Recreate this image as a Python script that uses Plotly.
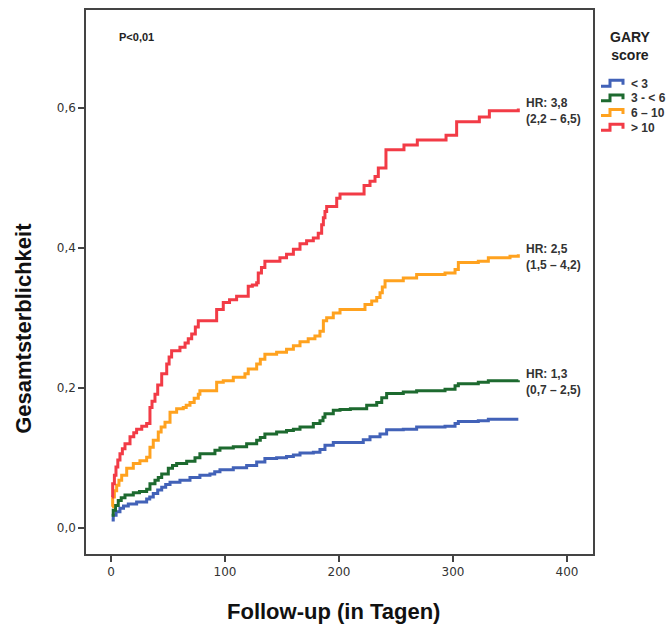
import plotly.graph_objects as go

# ---------------- data ----------------
series_names = ["< 3", "3 - < 6", "6 \u2013 10", "> 10"]
series_colors = ["#4262b8", "#1d6a2f", "#ffa21f", "#f23b46"]

days_lt3 = [0.6, 2, 4.5, 7.9, 11, 15.2, 22.5, 31.3, 34, 37.1, 41, 44.5, 48, 51.8, 60.5, 69.3, 78,
            86.8, 91, 95.6, 107.3, 119, 127.8, 135, 145.3, 154, 160, 165.8, 177.5, 183.3, 187.7,
            195, 221.3, 227.2, 236, 241.8, 256.4, 268.1, 293, 301.8, 304.7, 322.2, 331, 357.3]
vals_lt3 = [0.011, 0.018, 0.023, 0.028, 0.031, 0.034, 0.037, 0.041, 0.044, 0.049, 0.054, 0.058,
            0.062, 0.065, 0.068, 0.072, 0.075, 0.077, 0.080, 0.083, 0.086, 0.089, 0.094, 0.099,
            0.100, 0.102, 0.104, 0.107, 0.108, 0.112, 0.118, 0.122, 0.126, 0.130, 0.134, 0.140,
            0.141, 0.144, 0.145, 0.149, 0.152, 0.153, 0.155, 0.155]

days_3to6 = [0.6, 2, 4, 6.4, 9, 12.3, 19.6, 25, 31.3, 34.2, 38.6, 41.5, 44.5, 50.3, 54, 57.6, 66.4,
             73.7, 78, 91.2, 95.6, 107.3, 119, 127.8, 131, 135, 145.3, 154, 160, 165.8, 177.5,
             183.3, 186, 187.7, 195, 200.9, 210, 224.3, 233.1, 237.5, 241.8, 256.4, 268.1, 293,
             301.8, 304.7, 322.2, 331, 357.3]
vals_3to6 = [0.018, 0.025, 0.032, 0.039, 0.043, 0.047, 0.050, 0.052, 0.055, 0.063, 0.068, 0.072,
             0.077, 0.085, 0.089, 0.092, 0.095, 0.100, 0.106, 0.111, 0.114, 0.116, 0.120, 0.125,
             0.129, 0.134, 0.137, 0.139, 0.141, 0.144, 0.149, 0.153, 0.158, 0.163, 0.168, 0.169,
             0.170, 0.175, 0.179, 0.186, 0.192, 0.194, 0.196, 0.198, 0.203, 0.206, 0.208, 0.210,
             0.211]

days_6to10 = [1, 1.5, 3, 5, 7, 9.4, 13.8, 19.6, 25.4, 31.3, 34.2, 37.1, 41.5, 44, 47.4, 51.8, 57.6,
              63.4, 66, 69.3, 73, 76.6, 78, 92.7, 98.5, 107.3, 117.5, 120.4, 127.8, 131, 135,
              145.3, 154, 160, 165.8, 173, 178.9, 183.3, 186.3, 189.2, 195, 200.9, 222.8, 228.7,
              233.1, 236, 238, 240.4, 256.4, 268.1, 293, 301.8, 304.7, 322.2, 331, 350, 357.3]
vals_6to10 = [0.030, 0.044, 0.053, 0.061, 0.068, 0.075, 0.085, 0.092, 0.096, 0.101, 0.115, 0.125,
              0.137, 0.144, 0.151, 0.165, 0.170, 0.172, 0.175, 0.179, 0.185, 0.191, 0.196, 0.208,
              0.210, 0.215, 0.220, 0.227, 0.234, 0.241, 0.248, 0.251, 0.255, 0.260, 0.266, 0.270,
              0.274, 0.281, 0.296, 0.300, 0.307, 0.312, 0.319, 0.324, 0.329, 0.336, 0.344, 0.353,
              0.357, 0.362, 0.364, 0.369, 0.379, 0.381, 0.386, 0.388, 0.391]

days_gt10 = [1, 1.5, 3, 4.4, 6, 7.9, 10, 12.3, 16.7, 20, 22.5, 27, 31.3, 34.2, 36, 38.6, 41, 44.5,
             48.9, 51, 53.2, 60.5, 65, 67.8, 70.8, 74, 76.6, 92.7, 98.5, 104, 110.2, 120.4, 124,
             127.8, 129.2, 132, 135, 148.2, 154, 160, 165.8, 171.6, 177.5, 181.8, 184.8, 186.3,
             187.7, 189.2, 198, 200.9, 222, 227.2, 231.6, 234.5, 241.2, 257, 268.7, 293.9, 303.2,
             323.1, 331.9, 357.3]
vals_gt10 = [0.044, 0.063, 0.075, 0.087, 0.097, 0.106, 0.113, 0.120, 0.130, 0.136, 0.141, 0.145,
             0.149, 0.172, 0.181, 0.191, 0.204, 0.220, 0.234, 0.244, 0.253, 0.258, 0.264, 0.270,
             0.277, 0.287, 0.296, 0.312, 0.322, 0.326, 0.331, 0.345, 0.347, 0.350, 0.364, 0.372,
             0.381, 0.386, 0.391, 0.398, 0.406, 0.410, 0.414, 0.421, 0.433, 0.443, 0.452, 0.459,
             0.471, 0.477, 0.489, 0.495, 0.502, 0.514, 0.540, 0.547, 0.554, 0.561, 0.580, 0.587,
             0.596, 0.599]

series_days = [days_lt3, days_3to6, days_6to10, days_gt10]
series_vals = [vals_lt3, vals_3to6, vals_6to10, vals_gt10]

hr_labels = ["", "HR: 1,3<br>(0,7 \u2013 2,5)", "HR: 2,5<br>(1,5 \u2013 4,2)", "HR: 3,8<br>(2,2 \u2013 6,5)"]
hr_y = [None, 0.209, 0.387, 0.596]
hr_x = 362

x_ticks = [0, 100, 200, 300, 400]
y_ticks = [0.0, 0.2, 0.4, 0.6]
y_ticktext = ["0,0", "0,2", "0,4", "0,6"]

# ---------------- figure ----------------
W, H = 668, 625
ML, MR, MT, MB = 86, 75, 8, 71
PW, PH = W - ML - MR, H - MT - MB


def px(x):
    return (x - ML) / PW


def py(y):
    return (H - MB - y) / PH


fig = go.Figure()
for name, color, d, v in zip(series_names, series_colors, series_days, series_vals):
    fig.add_trace(go.Scatter(x=d, y=v, mode="lines", line=dict(color=color, width=3, shape="hv"),
                             name=name, showlegend=False, hoverinfo="x+y+name"))

bold = "Liberation Sans, Arial, sans-serif"
annotations = []
for lab, yy in zip(hr_labels, hr_y):
    if lab:
        annotations.append(dict(x=hr_x, y=yy, xref="x", yref="y", text="<b>" + lab + "</b>",
                                showarrow=False, xanchor="left", yanchor="middle", align="left",
                                font=dict(family=bold, size=12, color="#333333")))
annotations.append(dict(x=px(117), y=py(35), xref="paper", yref="paper", text="<b>P<0,01</b>",
                        showarrow=False, xanchor="left", yanchor="middle",
                        font=dict(family=bold, size=11, color="#222222")))
annotations.append(dict(x=px(333), y=py(612), xref="paper", yref="paper",
                        text="<b>Follow-up (in Tagen)</b>", showarrow=False,
                        xanchor="center", yanchor="middle",
                        font=dict(family=bold, size=22, color="#111111")))
annotations.append(dict(x=px(24), y=py(328), xref="paper", yref="paper",
                        text="<b>Gesamtsterblichkeit</b>", showarrow=False, textangle=-90,
                        xanchor="center", yanchor="middle",
                        font=dict(family=bold, size=22, color="#111111")))
# legend title
annotations.append(dict(x=px(630), y=py(44), xref="paper", yref="paper",
                        text="<b>GARY<br>score</b>", showarrow=False, xanchor="center",
                        yanchor="middle", align="center",
                        font=dict(family=bold, size=14, color="#222222")))

shapes = []
for i, (name, color) in enumerate(zip(series_names, series_colors)):
    yc = 82 + 14.7 * i
    path = "M {},{} L {},{} L {},{} L {},{} L {},{}".format(
        px(601), py(yc + 2.5), px(610), py(yc + 2.5), px(610), py(yc - 3.5),
        px(623), py(yc - 3.5), px(623), py(yc + 1))
    shapes.append(dict(type="path", path=path, xref="paper", yref="paper",
                       line=dict(color=color, width=3)))
    annotations.append(dict(x=px(629), y=py(yc), xref="paper", yref="paper",
                            text="<b>" + name + "</b>", showarrow=False, xanchor="left",
                            yanchor="middle", font=dict(family=bold, size=12, color="#333333")))

tickfont = dict(family="DejaVu Sans, sans-serif", size=12, color="#333333")
fig.update_layout(
    width=W, height=H,
    margin=dict(l=ML, r=MR, t=MT, b=MB),
    paper_bgcolor="white", plot_bgcolor="white",
    xaxis=dict(range=[-21.9, 422.8], tickvals=x_ticks, ticks="outside", ticklen=6,
               tickwidth=1.5, tickcolor="#444444", showline=True, linecolor="#444444",
               linewidth=1.5, mirror=True, showgrid=False, zeroline=False, tickfont=tickfont),
    yaxis=dict(range=[-0.0374, 0.7398], tickvals=y_ticks, ticktext=y_ticktext, ticks="outside",
               ticklen=6, tickwidth=1.5, tickcolor="#444444", showline=True,
               linecolor="#444444", linewidth=1.5, mirror=True, showgrid=False,
               zeroline=False, tickfont=tickfont),
    annotations=annotations,
    shapes=shapes,
    showlegend=False,
)

fig.write_html("out.html", config={"displayModeBar": False},
               post_script="document.body.style.margin='0';document.body.style.overflow='hidden';")
